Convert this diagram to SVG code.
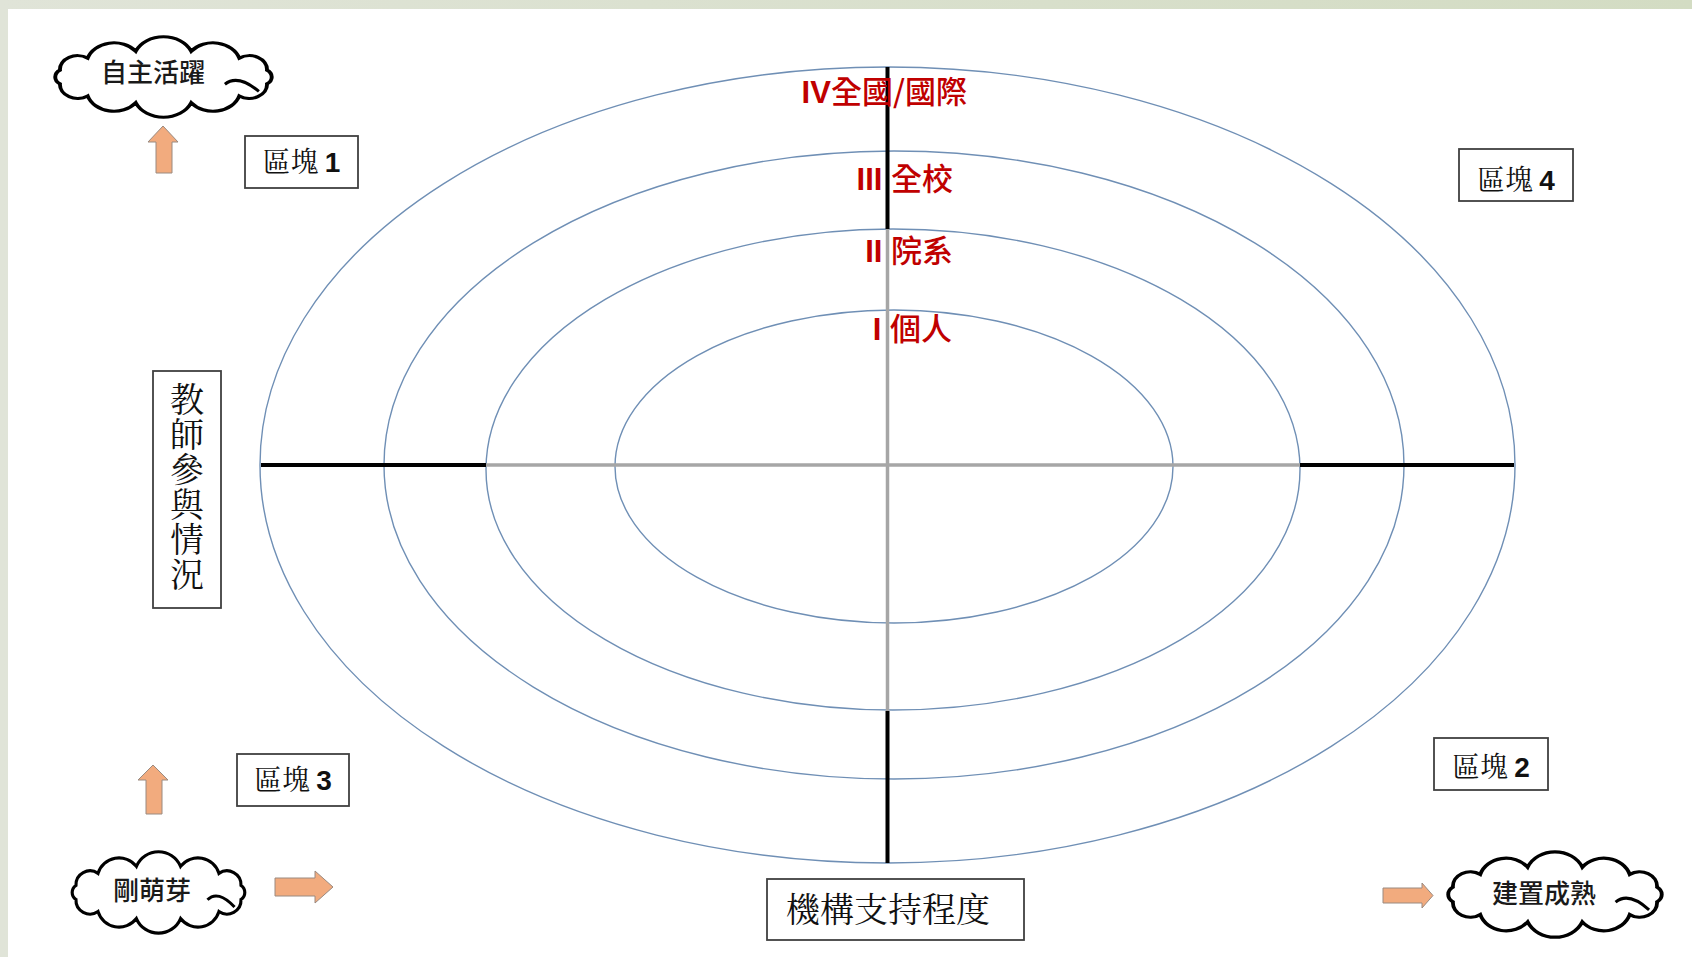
<svg xmlns="http://www.w3.org/2000/svg" width="1692" height="957" viewBox="0 0 1692 957">
<defs>
<linearGradient id="bg" x1="0" y1="0" x2="1" y2="0">
<stop offset="0" stop-color="#e0e4d8"/>
<stop offset="1" stop-color="#d3dcc3"/>
</linearGradient>
<path id="cloud" d="M20.8,46.7 A8,8 0 0 1 20.8,33.3 A13.5,13.5 0 0 1 42,21.6 A21,21 0 0 1 78.8,14.9 A23,23 0 0 1 121.2,14.9 A21,21 0 0 1 158,21.6 A13.5,13.5 0 0 1 179.2,33.3 A8,8 0 0 1 179.2,46.7 A13.5,13.5 0 0 1 158,58.4 A21,21 0 0 1 121.2,65.1 A23,23 0 0 1 78.8,65.1 A21,21 0 0 1 42,58.4 A13.5,13.5 0 0 1 20.8,46.7 Z"/>
</defs>
<style>
.ell{fill:none;stroke:#6f8fb5;stroke-width:1.4}
.ax{stroke:#000;stroke-width:4;fill:none}
.axg{stroke:#a6a6a6;stroke-width:3.5;fill:none}
.box{fill:#fff;stroke:#404040;stroke-width:1.8}
.cl{fill:#fff;stroke:#000;stroke-width:3;vector-effect:non-scaling-stroke}
.curl{fill:none;stroke:#000;stroke-width:3;vector-effect:non-scaling-stroke}
.arr{fill:#f2ab7e;stroke:#9a8a80;stroke-width:1}
.red{fill:#c00000;font-family:"Noto Sans CJK TC","Noto Sans",sans-serif;font-size:31px;font-weight:500}
.num{font-family:"Liberation Sans",sans-serif;font-weight:bold}
.lbl{fill:#111;font-family:"Noto Serif CJK TC","Noto Sans CJK TC",serif;font-size:28px}
.cltxt{fill:#1a1a1a;font-family:"Noto Sans CJK TC",sans-serif;font-size:26px;font-weight:500;text-anchor:middle}
.big{fill:#111;font-family:"Noto Serif CJK TC","Noto Sans CJK TC",serif;font-size:34px}
</style>
<rect x="0" y="0" width="1692" height="957" fill="url(#bg)"/>
<rect x="8" y="9" width="1684" height="948" fill="#fff"/>

<g id="rings">
<ellipse class="ell" cx="887.5" cy="465" rx="627.5" ry="398"/>
<ellipse class="ell" cx="894" cy="465" rx="510" ry="314"/>
<ellipse class="ell" cx="893" cy="469.5" rx="407" ry="240.5"/>
<ellipse class="ell" cx="894" cy="466.5" rx="279" ry="156.5"/>
</g>

<g id="connectors">
<line class="ax" x1="261" y1="465" x2="486" y2="465"/>
<line class="axg" x1="486" y1="465" x2="1300" y2="465"/>
<line class="ax" x1="1300" y1="465" x2="1514" y2="465"/>
<line class="ax" x1="887.5" y1="67" x2="887.5" y2="229"/>
<line class="axg" x1="887.5" y1="229" x2="887.5" y2="711"/>
<line class="ax" x1="887.5" y1="711" x2="887.5" y2="863"/>
<polygon class="arr" points="163,126 148,142 156,142 156,173 172,173 172,142 178,142"/>
<polygon class="arr" points="153,765 138,780 146,780 146,814 162,814 162,780 168,780"/>
<polygon class="arr" points="275,878 315,878 315,871 333,887 315,903 315,896 275,896"/>
<polygon class="arr" points="1383,888 1422,888 1422,883 1433,895.5 1422,908 1422,903 1383,903"/>
</g>

<g id="ring-labels">
<text class="red" x="967" y="103" text-anchor="end"><tspan class="num">IV</tspan>全國/國際</text>
<text class="red" x="953" y="190" text-anchor="end"><tspan class="num">III </tspan>全校</text>
<text class="red" x="953" y="262" text-anchor="end"><tspan class="num">II </tspan>院系</text>
<text class="red" x="952" y="340" text-anchor="end"><tspan class="num">I </tspan>個人</text>
</g>

<g id="block1">
<rect class="box" x="245" y="136" width="113" height="52"/>
<text class="lbl" x="301.5" y="172" text-anchor="middle">區塊<tspan class="num" dx="6">1</tspan></text>
</g>
<g id="block4">
<rect class="box" x="1459" y="149" width="114" height="52"/>
<text class="lbl" x="1516" y="190" text-anchor="middle">區塊<tspan class="num" dx="6">4</tspan></text>
</g>
<g id="block2">
<rect class="box" x="1434" y="738" width="114" height="52"/>
<text class="lbl" x="1491" y="777" text-anchor="middle">區塊<tspan class="num" dx="6">2</tspan></text>
</g>
<g id="block3">
<rect class="box" x="237" y="754" width="112" height="52"/>
<text class="lbl" x="293" y="790" text-anchor="middle">區塊<tspan class="num" dx="6">3</tspan></text>
</g>

<g id="y-axis-label">
<rect class="box" x="153" y="371" width="68" height="237"/>
<text class="big" x="187" y="382" style="writing-mode:vertical-rl" letter-spacing="1">教師參與情況</text>
</g>

<g id="x-axis-label">
<rect class="box" x="767" y="879" width="257" height="61"/>
<text class="big" x="888" y="922" text-anchor="middle">機構支持程度</text>
</g>

<g id="cloud-top">
<use href="#cloud" class="cl" transform="translate(55,37) scale(1.307,1.026) translate(-17,-1)"/>
<path class="curl" d="M147,47 Q157,37 173,54" transform="translate(55,37) scale(1.307,1.026) translate(-17,-1)"/>
<text class="cltxt" x="153" y="82">自主活躍</text>
</g>
<g id="cloud-start">
<use href="#cloud" class="cl" transform="translate(72,852) scale(1.042,1.038) translate(-17,-1)"/>
<path class="curl" d="M147,47 Q157,37 173,54" transform="translate(72,852) scale(1.042,1.038) translate(-17,-1)"/>
<text class="cltxt" x="152" y="900">剛萌芽</text>
</g>
<g id="cloud-end">
<use href="#cloud" class="cl" transform="translate(1448,852) scale(1.289,1.09) translate(-17,-1)"/>
<path class="curl" d="M147,47 Q157,37 173,54" transform="translate(1448,852) scale(1.289,1.09) translate(-17,-1)"/>
<text class="cltxt" x="1544" y="903">建置成熟</text>
</g>
</svg>
